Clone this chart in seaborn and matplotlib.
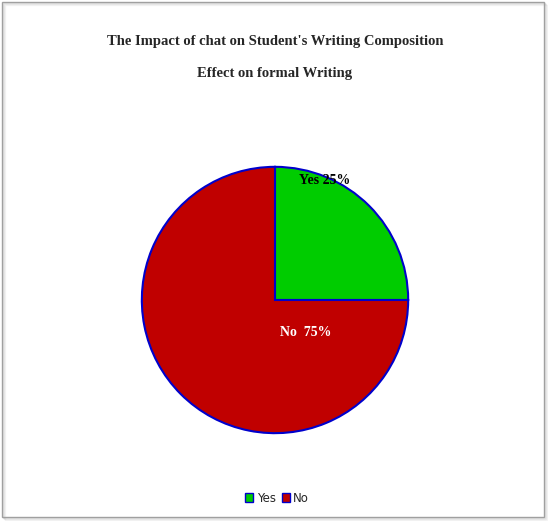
import matplotlib
matplotlib.use("Agg")
import matplotlib.pyplot as plt
import seaborn as sns
from matplotlib.patches import Rectangle, Patch

labels = ["Yes", "No"]
values = [25, 75]
colors = ["#00CC00", "#C00000"]
title_line1 = "The Impact of chat on Student's Writing Composition"
title_line2 = "Effect on formal Writing"

sns.set_theme(style="white")
plt.rcParams['font.family'] = ['DejaVu Sans']

W, H = 548, 521
fig = plt.figure(figsize=(W / 100, H / 100), dpi=100)
fig.patch.set_facecolor("white")

# border with shadow
for i, a in enumerate([0.10, 0.07, 0.04]):
    fig.add_artist(Rectangle(((2 + i + 1) / W, (H - 517 - i - 1) / H), 542 / W, 515 / H,
                             transform=fig.transFigure, facecolor="none",
                             edgecolor=(0, 0, 0, a), linewidth=1, zorder=-2))
fig.add_artist(Rectangle((1.5 / W, (H - 516.5) / H), 542.5 / W, 515 / H,
                         transform=fig.transFigure, facecolor="none",
                         edgecolor="#A0A0A0", linewidth=1, zorder=-1))

cx, cy, r = 275, 300, 134.5
ax = fig.add_axes([(cx - r) / W, (H - cy - r) / H, 2 * r / W, 2 * r / H])
ax.set_zorder(1)
ax.patch.set_alpha(0)
wedges, _ = ax.pie(values, colors=colors, startangle=90, counterclock=False,
                   wedgeprops=dict(edgecolor="#0000CC", linewidth=1.5))
ax.set_xlim(-1.01, 1.01)
ax.set_ylim(-1.01, 1.01)
ax.set_aspect("auto")

serif = ['Liberation Serif', 'DejaVu Serif']
ax.text(0.37, 0.90, f"{labels[0]} {values[0]}%", ha="center", va="center",
        fontsize=10, fontweight="bold", family=serif, color="black")
ax.text(0.23, -0.245, f"{labels[1]}  {values[1]}%", ha="center", va="center",
        fontsize=10, fontweight="bold", family=serif, color="white")

fig.text(275 / W, 1 - 42 / H, title_line1, ha="center", va="center",
         fontsize=10.5, fontweight="bold", family=serif)
fig.text(275 / W, 1 - 73 / H, title_line2, ha="center", va="center",
         fontsize=10.5, fontweight="bold", family=serif)

handles = [Patch(facecolor=c, edgecolor="#0000CC", linewidth=1, label=l)
           for c, l in zip(colors, labels)]
leg = fig.legend(handles=handles, loc="center", bbox_to_anchor=(277 / W, 1 - 498 / H),
                 ncol=2, frameon=False, fontsize=8.5, handlelength=0.7, handleheight=0.7,
                 handletextpad=0.3, columnspacing=0.5)

fig.savefig("out.png", dpi=100)
